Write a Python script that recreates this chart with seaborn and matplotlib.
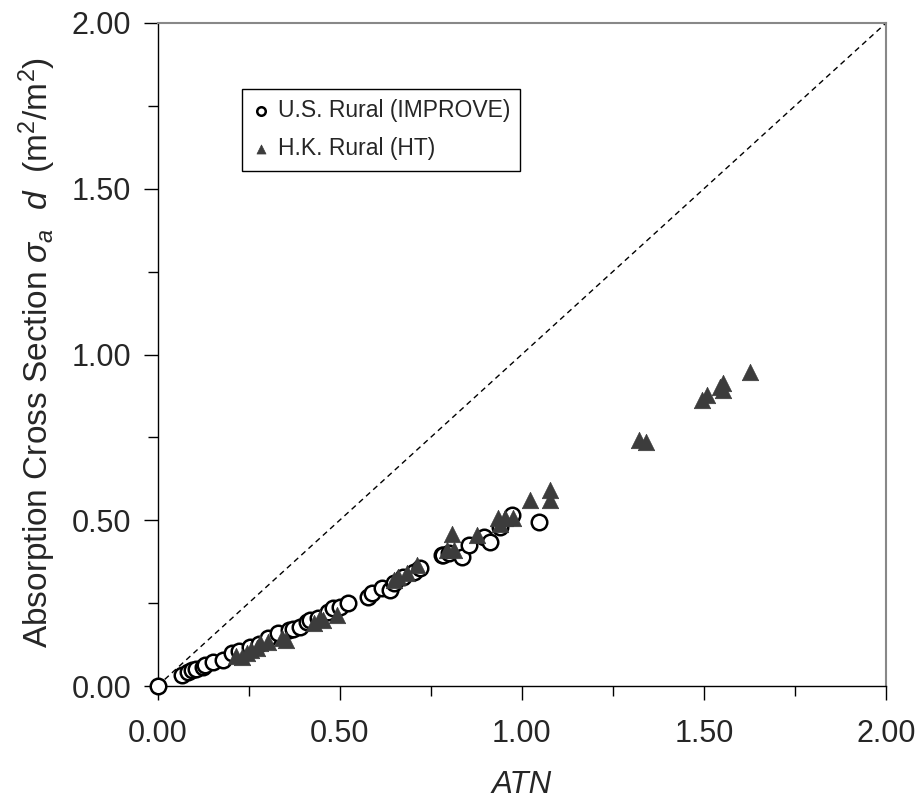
import matplotlib
matplotlib.use("Agg")
import matplotlib.pyplot as plt
from matplotlib.ticker import MultipleLocator, FormatStrFormatter
import seaborn as sns
import pandas as pd

# U.S. Rural (IMPROVE)
us_atn = [0.00, 0.066, 0.085, 0.094, 0.105, 0.126, 0.130, 0.153, 0.181, 0.204, 0.225,
          0.255, 0.280, 0.304, 0.332, 0.360, 0.372, 0.391, 0.410, 0.419, 0.440,
          0.469, 0.483, 0.500, 0.524, 0.579, 0.588, 0.616, 0.639, 0.648, 0.675,
          0.703, 0.721, 0.781, 0.785, 0.800, 0.836, 0.854, 0.895, 0.913, 0.941,
          0.973, 1.046]
us_sig = [0.000, 0.033, 0.043, 0.048, 0.052, 0.058, 0.063, 0.073, 0.078, 0.099, 0.105,
          0.118, 0.128, 0.144, 0.159, 0.169, 0.172, 0.179, 0.194, 0.199, 0.205,
          0.224, 0.234, 0.238, 0.249, 0.269, 0.280, 0.295, 0.290, 0.310, 0.330,
          0.345, 0.355, 0.395, 0.395, 0.400, 0.390, 0.425, 0.450, 0.435, 0.480,
          0.516, 0.496]

# H.K. Rural (HT)
hk_atn = [0.215, 0.231, 0.245, 0.258, 0.272, 0.282, 0.304, 0.341, 0.354, 0.430,
          0.446, 0.455, 0.492, 0.648, 0.660, 0.685, 0.712, 0.794, 0.808, 0.815,
          0.877, 0.936, 0.940, 0.955, 0.977, 1.023, 1.078, 1.078, 1.321, 1.342,
          1.495, 1.509, 1.545, 1.553, 1.553, 1.626]
hk_sig = [0.092, 0.088, 0.099, 0.108, 0.114, 0.129, 0.134, 0.144, 0.140, 0.190,
          0.204, 0.200, 0.214, 0.320, 0.330, 0.340, 0.365, 0.410, 0.460, 0.410,
          0.455, 0.506, 0.490, 0.506, 0.506, 0.561, 0.591, 0.561, 0.742, 0.737,
          0.863, 0.878, 0.903, 0.915, 0.893, 0.948]

ref_line = [0.0, 2.0]

sns.set_theme(style="ticks")
plt.rcParams['font.family'] = ['Liberation Sans', 'DejaVu Sans']
plt.rcParams['mathtext.fontset'] = 'custom'
plt.rcParams['mathtext.rm'] = 'Liberation Sans'
plt.rcParams['mathtext.it'] = 'Liberation Sans:italic'
plt.rcParams['mathtext.default'] = 'it'

fig = plt.figure(figsize=(9.23, 8.01), dpi=100)
ax = fig.add_axes([157.5/923, 1-686/801, (886-157.5)/923, (686-23)/801])

sns.lineplot(x=ref_line, y=ref_line, ax=ax, color='black', linewidth=1.0,
             linestyle=(0, (4, 3)), legend=False)

us_df = pd.DataFrame({"ATN": us_atn, "sig": us_sig})
hk_df = pd.DataFrame({"ATN": hk_atn, "sig": hk_sig})

sns.scatterplot(data=us_df, x="ATN", y="sig", ax=ax, marker='o', s=125,
                facecolor='white', edgecolor='black', linewidth=1.8,
                label='U.S. Rural (IMPROVE)', zorder=3, clip_on=False)
sns.scatterplot(data=hk_df, x="ATN", y="sig", ax=ax, marker='^', s=140,
                color='#3c3c3c', edgecolor='#3c3c3c', linewidth=0.5,
                label='H.K. Rural (HT)', zorder=4, clip_on=False)

ax.set_xlim(0, 2)
ax.set_ylim(0, 2)
ax.xaxis.set_major_locator(MultipleLocator(0.5))
ax.xaxis.set_minor_locator(MultipleLocator(0.25))
ax.yaxis.set_major_locator(MultipleLocator(0.5))
ax.yaxis.set_minor_locator(MultipleLocator(0.25))
ax.xaxis.set_major_formatter(FormatStrFormatter('%.2f'))
ax.yaxis.set_major_formatter(FormatStrFormatter('%.2f'))
ax.tick_params(which='major', direction='out', length=10, width=1.0,
               labelsize=22, color='black')
ax.tick_params(which='minor', direction='out', length=7, width=1.0, color='black')
ax.tick_params(axis='x', which='major', pad=14)
ax.tick_params(axis='y', which='major', pad=9)

for side in ['left', 'bottom']:
    ax.spines[side].set_color('black')
    ax.spines[side].set_linewidth(1.0)
for side in ['top', 'right']:
    ax.spines[side].set_visible(True)
    ax.spines[side].set_color('#888888')
    ax.spines[side].set_linewidth(1.5)

ax.set_xlabel('ATN', fontsize=22.5, fontstyle='italic', labelpad=15)
ax.set_ylabel(r'Absorption Cross Section $\sigma_{a}$  $d$  (m$^{\mathrm{2}}$/m$^{\mathrm{2}}$)',
              fontsize=24)
ax.yaxis.set_label_coords((58 - 157.5) / 728.5, (686 - 352) / 663)

leg = ax.legend(loc='upper left', bbox_to_anchor=((242-157.5)/728.5, (686-89)/663),
                borderaxespad=0, fontsize=16.5, frameon=True, fancybox=False,
                markerscale=0.55, handletextpad=0.3, handlelength=0.8,
                borderpad=0.45, labelspacing=0.65)
leg.get_frame().set_edgecolor('black')
leg.get_frame().set_linewidth(1.0)
leg.get_frame().set_alpha(1)

fig.savefig('out.png', dpi=100)
